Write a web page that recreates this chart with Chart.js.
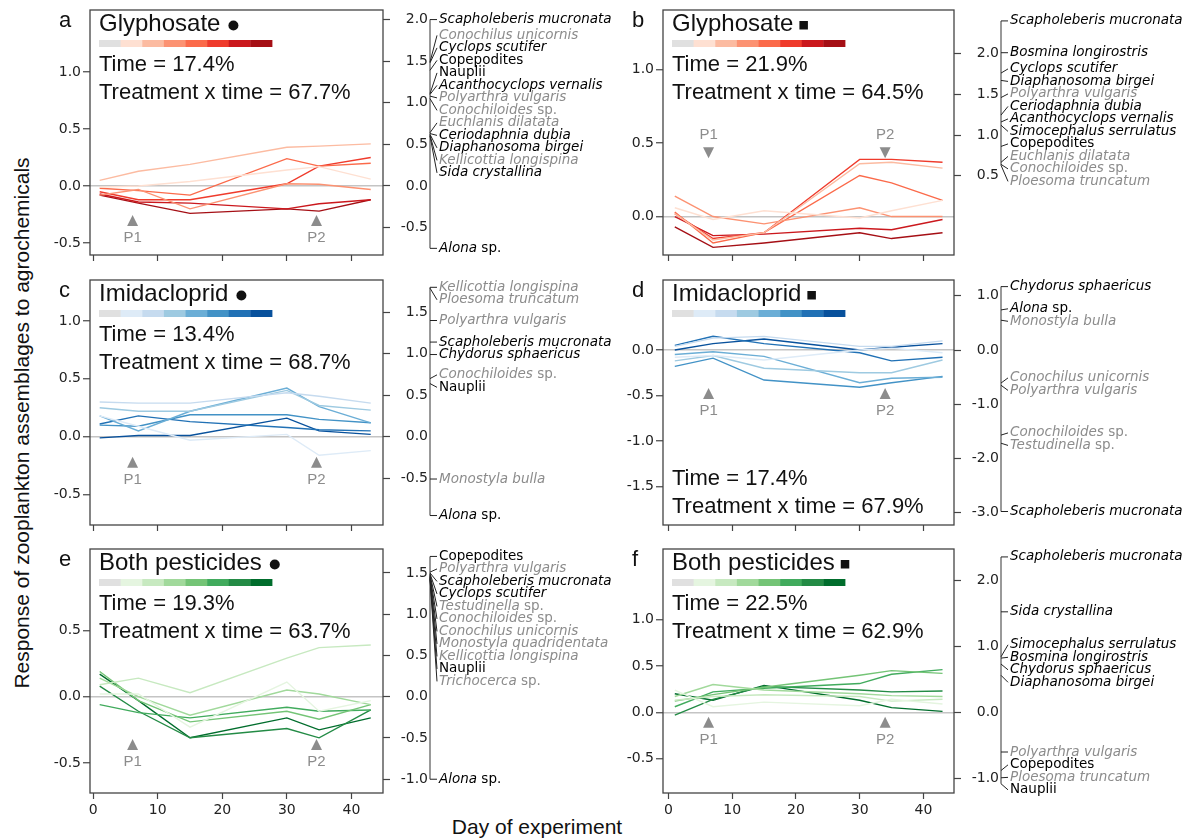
<!DOCTYPE html>
<html>
<head>
<meta charset="utf-8">
<script src="https://cdn.jsdelivr.net/npm/chart.js@4.4.1/dist/chart.umd.min.js"></script>
<style>
  body { margin: 0; background: #fff; width: 1182px; height: 838px; position: relative; overflow: hidden; }
  canvas { position: absolute; }
  .axTitle { position: absolute; font: 21px "Liberation Sans", Arial, sans-serif; color: #111; text-align: center; white-space: nowrap; }
  #ytitle { left: -278px; top: 411px; width: 600px; transform: rotate(-90deg); }
  #xtitle { left: 337px; top: 815px; width: 400px; }
</style>
</head>
<body>
<div class="axTitle" id="ytitle">Response of zooplankton assemblages to agrochemicals</div>
<div class="axTitle" id="xtitle">Day of experiment</div>
<script>
// jours d'échantillonnage et graduations de l'axe x
const days = [1, 7, 15, 30, 35, 43];
const dayTicks = [0, 10, 20, 30, 40];

// palettes (témoin en gris puis les 7 concentrations)
const controlGrey = '#e0e0e0';
const reds = ['#fee0d2', '#fcbba1', '#fc9272', '#fb6a4a', '#ef3b2c', '#cb181d', '#a50f15'];
const blues = ['#deebf7', '#c6dbef', '#9ecae1', '#6baed6', '#4292c6', '#2171b5', '#08519c'];
const greens = ['#e5f5e0', '#c7e9c0', '#a1d99b', '#74c476', '#41ab5d', '#238b45', '#006d2c'];

// courbes PRC, une ligne par concentration
const glyRound = [
  [-0.01, 0.00, 0.04, 0.14, 0.17, 0.06],
  [0.05, 0.13, 0.19, 0.34, 0.35, 0.37],
  [-0.08, -0.03, -0.20, 0.02, 0.015, -0.03],
  [-0.02, -0.04, -0.08, 0.24, 0.175, 0.20],
  [-0.05, -0.12, -0.12, 0.02, 0.175, 0.25],
  [-0.07, -0.14, -0.15, -0.20, -0.155, -0.12],
  [-0.08, -0.15, -0.24, -0.20, -0.22, -0.12]
];
const glySquare = [
  [0.06, -0.02, 0.04, -0.01, 0.04, 0.11],
  [0.02, -0.16, -0.11, 0.36, 0.37, 0.33],
  [0.14, 0.00, -0.05, 0.06, 0.00, 0.00],
  [0.03, -0.18, -0.11, 0.28, 0.23, 0.11],
  [0.02, -0.15, -0.11, 0.39, 0.39, 0.37],
  [0.00, -0.13, -0.12, -0.08, -0.09, -0.02],
  [-0.07, -0.21, -0.18, -0.11, -0.15, -0.11]
];
const imiRound = [
  [0.18, 0.09, -0.03, 0.02, -0.16, -0.12],
  [0.30, 0.29, 0.29, 0.38, 0.35, 0.29],
  [0.25, 0.22, 0.22, 0.40, 0.27, 0.23],
  [0.18, 0.05, 0.22, 0.42, 0.26, 0.12],
  [0.10, 0.09, 0.19, 0.19, 0.15, 0.12],
  [0.11, 0.18, 0.13, 0.08, 0.06, 0.05],
  [-0.01, 0.01, 0.01, 0.16, 0.05, 0.02]
];
const imiSquare = [
  [-0.08, -0.06, -0.11, 0.00, 0.02, -0.03],
  [0.04, 0.13, 0.15, 0.04, 0.04, 0.10],
  [-0.12, -0.06, -0.20, -0.25, -0.25, -0.11],
  [-0.05, -0.02, -0.07, -0.36, -0.31, -0.30],
  [-0.18, -0.09, -0.33, -0.41, -0.36, -0.29],
  [0.05, 0.15, 0.07, -0.03, -0.12, -0.08],
  [0.00, 0.07, 0.12, 0.00, 0.03, 0.07]
];
const bothRound = [
  [0.02, 0.02, -0.23, 0.11, -0.11, -0.03],
  [0.09, 0.14, 0.03, 0.29, 0.37, 0.39],
  [0.14, 0.00, -0.14, 0.05, 0.02, -0.06],
  [0.19, -0.03, -0.19, -0.11, -0.17, -0.06],
  [-0.06, -0.12, -0.16, -0.08, -0.11, -0.10],
  [0.08, -0.11, -0.31, -0.24, -0.31, -0.10],
  [0.17, -0.03, -0.31, -0.16, -0.25, -0.16]
];
const bothSquare = [
  [0.24, 0.06, 0.11, 0.07, 0.14, 0.09],
  [0.13, 0.17, 0.19, 0.17, 0.12, 0.14],
  [0.17, 0.30, 0.24, 0.20, 0.18, 0.17],
  [0.12, 0.19, 0.27, 0.40, 0.45, 0.42],
  [0.06, 0.22, 0.26, 0.31, 0.41, 0.46],
  [-0.03, 0.14, 0.28, 0.24, 0.22, 0.23],
  [0.20, 0.13, 0.29, 0.13, 0.05, 0.01]
];

// poids des espèces (axe de droite)
const glyRoundSpecies = ['Scapholeberis mucronata', 'Conochilus unicornis', 'Cyclops scutifer', 'Copepodites', 'Nauplii',
  'Acanthocyclops vernalis', 'Polyarthra vulgaris', 'Conochiloides sp.', 'Euchlanis dilatata', 'Ceriodaphnia dubia',
  'Diaphanosoma birgei', 'Kellicottia longispina', 'Sida crystallina', 'Alona sp.'];
const glyRoundWeights = [2.0, 1.49, 1.48, 1.39, 1.11, 1.10, 1.08, 1.05, 0.64, 0.63, 0.62, 0.61, 0.60, -0.75];

const glySquareSpecies = ['Scapholeberis mucronata', 'Bosmina longirostris', 'Cyclops scutifer', 'Diaphanosoma birgei',
  'Polyarthra vulgaris', 'Ceriodaphnia dubia', 'Acanthocyclops vernalis', 'Simocephalus serrulatus', 'Copepodites',
  'Euchlanis dilatata', 'Conochiloides sp.', 'Ploesoma truncatum'];
const glySquareWeights = [2.40, 2.01, 1.76, 1.67, 1.46, 1.245, 1.16, 1.12, 0.86, 0.665, 0.64, 0.63];

const imiRoundSpecies = ['Kellicottia longispina', 'Ploesoma truncatum', 'Polyarthra vulgaris', 'Scapholeberis mucronata',
  'Chydorus sphaericus', 'Conochiloides sp.', 'Nauplii', 'Monostyla bulla', 'Alona sp.'];
const imiRoundWeights = [1.80, 1.79, 1.40, 1.14, 0.99, 0.70, 0.64, -0.51, -0.95];

const imiSquareSpecies = ['Chydorus sphaericus', 'Alona sp.', 'Monostyla bulla', 'Conochilus unicornis',
  'Polyarthra vulgaris', 'Conochiloides sp.', 'Testudinella sp.', 'Scapholeberis mucronata'];
const imiSquareWeights = [1.17, 0.74, 0.55, -0.61, -0.65, -1.57, -1.72, -2.98];

const bothRoundSpecies = ['Copepodites', 'Polyarthra vulgaris', 'Scapholeberis mucronata', 'Cyclops scutifer',
  'Testudinella sp.', 'Conochiloides sp.', 'Conochilus unicornis', 'Monostyla quadridentata', 'Kellicottia longispina',
  'Nauplii', 'Trichocerca sp.', 'Alona sp.'];
const bothRoundWeights = [1.70, 1.51, 1.50, 1.49, 1.48, 1.47, 1.46, 1.45, 1.44, 1.43, 1.42, -1.0];

const bothSquareSpecies = ['Scapholeberis mucronata', 'Sida crystallina', 'Simocephalus serrulatus', 'Bosmina longirostris',
  'Chydorus sphaericus', 'Diaphanosoma birgei', 'Polyarthra vulgaris', 'Copepodites', 'Ploesoma truncatum', 'Nauplii'];
const bothSquareWeights = [2.35, 1.52, 0.84, 0.82, 0.73, 0.56, -0.60, -0.88, -0.99, -1.08];

// rotifères en gris, le reste en noir
const rotifers = ['Conochilus', 'Polyarthra', 'Conochiloides', 'Euchlanis', 'Kellicottia', 'Ploesoma',
  'Monostyla', 'Testudinella', 'Trichocerca'];
const plainNames = ['Copepodites', 'Nauplii'];

// variance expliquée
const titles = ['Glyphosate', 'Glyphosate', 'Imidacloprid', 'Imidacloprid', 'Both pesticides', 'Both pesticides'];
const timeShare = ['17.4', '21.9', '13.4', '17.4', '19.3', '22.5'];
const interShare = ['67.7', '64.5', '68.7', '67.9', '63.7', '62.9'];

// graduations des axes
const leftTicks = [[-0.5, 0, 0.5, 1.0], [0, 0.5, 1.0], [-0.5, 0, 0.5, 1.0], [-1.5, -1.0, -0.5, 0], [-0.5, 0, 0.5], [-0.5, 0, 0.5, 1.0]];
const rightTicks = [[2.0, 1.5, 1.0, 0.5, 0.0, -0.5], [2.0, 1.5, 1.0, 0.5], [1.5, 1.0, 0.5, 0.0, -0.5], [1, 0, -1, -2, -3], [1.5, 1.0, 0.5, 0.0, -0.5, -1.0], [2, 1, 0, -1]];
const pulseDays = [[6.1, 34.6], [6.3, 34], [6.1, 34.6], [6.3, 34], [6.1, 34.6], [6.3, 34]];

// mise en page de chaque panneau
const panels = [
  { id: 'a', box: [90, 10, 383, 255], x: [-0.5, 44.9], yL: [-0.605, 1.544], yR: [-0.83, 2.115], lines: glyRound, shades: reds, symbol: 'circle',
    species: glyRoundSpecies, weights: glyRoundWeights, pTip: -0.254, pDir: 'up', bottom: false, statsLow: false },
  { id: 'b', box: [663, 10, 954, 255], x: [-0.85, 44.8], yL: [-0.262, 1.408], yR: [-0.472, 2.534], lines: glySquare, shades: reds, symbol: 'square',
    species: glySquareSpecies, weights: glySquareWeights, pTip: 0.398, pDir: 'down', bottom: false, statsLow: false },
  { id: 'c', box: [90, 280, 383, 525], x: [-0.5, 44.9], yL: [-0.763, 1.354], yR: [-1.064, 1.888], lines: imiRound, shades: blues, symbol: 'circle',
    species: imiRoundSpecies, weights: imiRoundWeights, pTip: -0.173, pDir: 'up', bottom: false, statsLow: false },
  { id: 'd', box: [663, 280, 954, 525], x: [-0.85, 44.8], yL: [-1.923, 0.769], yR: [-3.229, 1.292], lines: imiSquare, shades: blues, symbol: 'square',
    species: imiSquareSpecies, weights: imiSquareWeights, pTip: -0.418, pDir: 'up', bottom: false, statsLow: true },
  { id: 'e', box: [90, 549, 383, 793], x: [-0.5, 44.9], yL: [-0.726, 1.113], yR: [-1.167, 1.79], lines: bothRound, shades: greens, symbol: 'circle',
    species: bothRoundSpecies, weights: bothRoundWeights, pTip: -0.319, pDir: 'up', bottom: true, statsLow: false },
  { id: 'f', box: [663, 549, 954, 793], x: [-0.85, 44.8], yL: [-0.871, 1.762], yR: [-1.22, 2.47], lines: bothSquare, shades: greens, symbol: 'square',
    species: bothSquareSpecies, weights: bothSquareWeights, pTip: -0.047, pDir: 'up', bottom: true, statsLow: false }
];

Chart.defaults.font.family = '"DejaVu Sans", Verdana, sans-serif';
Chart.defaults.font.size = 14;

// étiquettes des espèces : on écarte les noms qui se chevauchent (le premier reste en place)
function spreadLabels(targets, gap) {
  const groups = [];
  targets.forEach(function (y, i) {
    groups.push({ n: 1, sum: y, top: y, fixed: i === 0 });
    while (groups.length > 1) {
      const g = groups[groups.length - 1];
      const prev = groups[groups.length - 2];
      if (g.top >= prev.top + prev.n * gap) break;
      prev.n += g.n;
      prev.sum += g.sum;
      if (!prev.fixed) prev.top = prev.sum / prev.n - (prev.n - 1) * gap / 2;
      groups.pop();
    }
  });
  const out = [];
  groups.forEach(function (g) {
    for (let k = 0; k < g.n; k++) out.push(g.top + k * gap);
  });
  return out;
}

function drawSpecies(ctx, name, x, y) {
  const genus = name.split(' ')[0];
  ctx.fillStyle = rotifers.includes(genus) ? '#8c8c8c' : '#000';
  let parts;
  if (plainNames.includes(name)) parts = [[name, false]];
  else if (name.endsWith(' sp.')) parts = [[name.slice(0, -4), true], [' sp.', false]];
  else parts = [[name, true]];
  parts.forEach(function (pt) {
    ctx.font = (pt[1] ? 'italic ' : '') + '13.5px "DejaVu Sans", Verdana, sans-serif';
    ctx.fillText(pt[0], x, y);
    x += ctx.measureText(pt[0]).width;
  });
}

function decor(p, idx) {
  return {
    id: 'decor' + p.id,
    afterDraw(chart) {
      const ctx = chart.ctx;
      const ca = chart.chartArea;
      const L = ca.left, T = ca.top, B = ca.bottom;
      ctx.save();

      // cadre
      ctx.strokeStyle = '#444';
      ctx.lineWidth = 1.3;
      ctx.strokeRect(ca.left, ca.top, ca.right - ca.left, ca.bottom - ca.top);

      // lettre du panneau
      ctx.fillStyle = '#111';
      ctx.textBaseline = 'alphabetic';
      ctx.textAlign = 'left';
      ctx.font = '22px "Liberation Sans", Arial, sans-serif';
      ctx.fillText(p.id, L - 31, T + 17);

      // titre + symbole
      ctx.font = '24px "Liberation Sans", Arial, sans-serif';
      ctx.fillText(titles[idx], L + 9, T + 21);
      const tw = ctx.measureText(titles[idx]).width;
      if (p.symbol === 'circle') {
        ctx.beginPath();
        ctx.arc(L + 9 + tw + 13, T + 15.5, 5, 0, Math.PI * 2);
        ctx.fill();
      } else {
        ctx.fillRect(L + 9 + tw + 6, T + 11, 8.5, 8.5);
      }

      // barre de couleurs
      const segW = 173 / 8;
      [controlGrey].concat(p.shades).forEach(function (c, i) {
        ctx.fillStyle = c;
        ctx.fillRect(L + 9 + i * segW, T + 30, segW + 0.4, 7);
      });

      // pourcentages
      ctx.fillStyle = '#111';
      ctx.font = '22px "Liberation Sans", Arial, sans-serif';
      const sy = p.statsLow ? [B - 40, B - 12] : [T + 61, T + 89];
      ctx.fillText('Time = ' + timeShare[idx] + '%', L + 9, sy[0]);
      ctx.fillText('Treatment x time = ' + interShare[idx] + '%', L + 9, sy[1]);

      // pulses P1 / P2
      const tip = chart.scales.y.getPixelForValue(p.pTip);
      const s = p.pDir === 'up' ? 1 : -1;
      ctx.fillStyle = '#8c8c8c';
      ctx.font = '15px "Liberation Sans", Arial, sans-serif';
      ctx.textAlign = 'center';
      ctx.textBaseline = 'middle';
      pulseDays[idx].forEach(function (d, i) {
        const px = chart.scales.x.getPixelForValue(d);
        ctx.beginPath();
        ctx.moveTo(px, tip);
        ctx.lineTo(px - 5.5, tip + s * 11);
        ctx.lineTo(px + 5.5, tip + s * 11);
        ctx.closePath();
        ctx.fill();
        ctx.fillText('P' + (i + 1), px, tip + s * 23);
      });

      // pile des espèces
      const rs = chart.scales.yR;
      const x0 = ca.right + 47;
      const targets = p.weights.map(function (w) { return rs.getPixelForValue(w); });
      const pos = spreadLabels(targets, 12.5);
      ctx.strokeStyle = '#555';
      ctx.lineWidth = 1.2;
      ctx.beginPath();
      ctx.moveTo(x0, targets[0]);
      ctx.lineTo(x0, targets[targets.length - 1]);
      ctx.stroke();
      ctx.strokeStyle = '#222';
      ctx.lineWidth = 1;
      ctx.textAlign = 'left';
      ctx.textBaseline = 'middle';
      targets.forEach(function (t, i) {
        ctx.beginPath();
        ctx.moveTo(x0, t);
        ctx.lineTo(x0 + 7, pos[i]);
        ctx.stroke();
        drawSpecies(ctx, p.species[i], x0 + 9, pos[i]);
      });
      ctx.restore();
    }
  };
}

panels.forEach(function (p, idx) {
  const cv = document.createElement('canvas');
  const left = p.box[0] - 50;
  const top = p.box[1] - 10;
  const w = p.box[0] < 300 ? 572 : 1182 - left;
  const xh = p.bottom ? 32 : 14;
  const boxW = p.box[2] - p.box[0];
  const h = 10 + (p.box[3] - p.box[1]) + xh;
  cv.width = w;
  cv.height = h;
  cv.style.left = left + 'px';
  cv.style.top = top + 'px';
  document.body.appendChild(cv);

  const datasets = p.lines.map(function (vals, i) {
    return {
      data: vals.map(function (v, k) { return { x: days[k], y: v }; }),
      borderColor: p.shades[i],
      borderWidth: 1.4,
      pointRadius: 0,
      tension: 0,
      fill: false,
      yAxisID: 'y'
    };
  });

  new Chart(cv, {
    type: 'line',
    data: { datasets: datasets },
    options: {
      responsive: false,
      animation: false,
      events: [],
      layout: { padding: { left: 0, top: 10, right: w - 50 - boxW - 45, bottom: 0 } },
      plugins: { legend: { display: false }, tooltip: { enabled: false } },
      scales: {
        x: {
          type: 'linear', min: p.x[0], max: p.x[1],
          afterBuildTicks: function (s) { s.ticks = dayTicks.map(function (v) { return { value: v }; }); },
          afterFit: function (s) { s.height = xh; s.paddingLeft = 0; s.paddingRight = 0; },
          grid: { drawOnChartArea: false, tickLength: 6, tickColor: '#444', tickWidth: 1.2 },
          border: { display: false },
          ticks: { display: p.bottom, padding: 3, color: '#222', autoSkip: false, maxRotation: 0, callback: function (v) { return v; } }
        },
        y: {
          position: 'left', min: p.yL[0], max: p.yL[1],
          afterBuildTicks: function (s) { s.ticks = leftTicks[idx].map(function (v) { return { value: v }; }); },
          afterFit: function (s) { s.width = 50; s.paddingTop = 0; s.paddingBottom = 0; },
          grid: {
            drawOnChartArea: true,
            color: function (c) { return c.tick && c.tick.value === 0 ? '#c4c4c4' : 'rgba(0,0,0,0)'; },
            lineWidth: 1.5, tickColor: '#444', tickLength: 7, tickWidth: 1.2
          },
          border: { display: false },
          ticks: { padding: 2, color: '#222', autoSkip: false, callback: function (v) { return v.toFixed(1); } }
        },
        yR: {
          position: 'right', min: p.yR[0], max: p.yR[1],
          afterBuildTicks: function (s) { s.ticks = rightTicks[idx].map(function (v) { return { value: v }; }); },
          afterFit: function (s) { s.width = 45; s.paddingTop = 0; s.paddingBottom = 0; },
          grid: { drawOnChartArea: false, tickColor: '#444', tickLength: 7, tickWidth: 1.2 },
          border: { display: false },
          ticks: { padding: 6, crossAlign: 'far', color: '#222', autoSkip: false, callback: function (v) { return v.toFixed(1); } }
        }
      }
    },
    plugins: [decor(p, idx)]
  });
});
</script>
</body>
</html>
